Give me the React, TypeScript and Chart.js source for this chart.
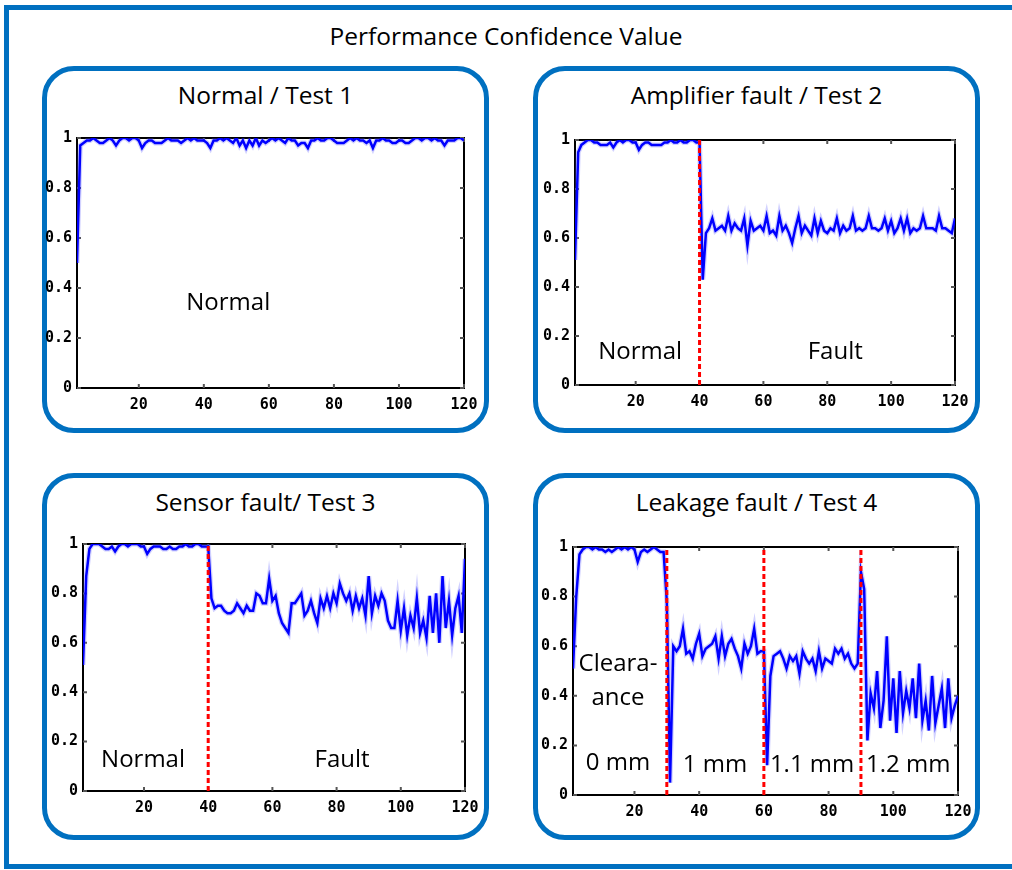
import React, { useEffect, useRef } from "react";
import { Chart, registerables } from "chart.js";

Chart.register(...registerables);

// ---------- data ----------
const xTicks = [20, 40, 60, 80, 100, 120];
const yTicks = [0, 0.2, 0.4, 0.6, 0.8, 1];

const test1 = [
  0.5, 0.97, 0.98, 0.99, 0.99, 1.0, 0.99, 0.98, 0.98, 0.99,
  1.0, 0.99, 0.97, 0.99, 1.0, 1.0, 0.99, 1.0, 1.0, 0.99,
  0.96, 0.98, 0.99, 0.99, 0.98, 0.98, 0.98, 0.99, 1.0, 0.99,
  0.99, 0.99, 0.98, 0.99, 1.0, 0.99, 1.0, 0.99, 0.99, 0.99,
  0.98, 0.96, 0.99, 0.99, 1.0, 0.99, 1.0, 0.99, 0.98, 1.0,
  0.97, 0.99, 0.96, 0.99, 0.97, 1.0, 0.97, 0.99, 0.98, 0.99,
  1.0, 0.99, 1.0, 0.99, 0.98, 1.0, 0.99, 0.99, 0.97, 0.98,
  0.98, 0.96, 0.99, 0.99, 1.0, 0.99, 0.99, 1.0, 1.0, 0.99,
  0.98, 0.98, 0.98, 0.99, 1.0, 0.99, 1.0, 0.99, 0.99, 0.98,
  0.99, 0.96, 0.99, 0.99, 1.0, 0.99, 0.99, 0.98, 0.98, 0.99,
  0.99, 0.98, 0.98, 0.99, 1.0, 1.0, 0.99, 1.0, 1.0, 0.99,
  1.0, 0.99, 0.99, 0.97, 0.99, 0.99, 0.99, 1.0, 1.0, 0.99,
];

const test2 = [
  0.51, 0.95, 0.98, 0.99, 1.0, 1.0, 0.99, 0.99, 0.98, 0.98,
  0.98, 0.99, 0.97, 0.99, 1.0, 0.99, 1.0, 1.0, 0.99, 0.99,
  0.96, 0.98, 0.99, 0.99, 0.98, 0.98, 0.98, 0.98, 0.99, 0.99,
  1.0, 0.99, 0.99, 1.0, 0.99, 0.99, 1.0, 1.0, 0.99, 0.99,
  0.43, 0.62, 0.64, 0.68, 0.63, 0.64, 0.65, 0.63, 0.69, 0.63,
  0.66, 0.64, 0.63, 0.68, 0.57, 0.67, 0.63, 0.64, 0.65, 0.63,
  0.69, 0.62, 0.63, 0.61, 0.69, 0.63, 0.65, 0.62, 0.58, 0.64,
  0.69, 0.62, 0.65, 0.63, 0.61, 0.68, 0.62, 0.67, 0.63, 0.62,
  0.64, 0.63, 0.68, 0.62, 0.65, 0.63, 0.64, 0.69, 0.63, 0.64,
  0.63, 0.64, 0.69, 0.64, 0.64, 0.63, 0.64, 0.68, 0.63, 0.67,
  0.62, 0.64, 0.68, 0.63, 0.68, 0.62, 0.64, 0.63, 0.64, 0.69,
  0.64, 0.64, 0.64, 0.63, 0.69, 0.64, 0.64, 0.63, 0.62, 0.68,
];

const test3 = [
  0.51, 0.87, 0.98, 1.0, 1.0, 1.0, 0.99, 0.98, 0.98, 0.99,
  0.97, 0.99, 1.0, 1.0, 0.99, 1.0, 1.0, 1.0, 0.99, 0.99,
  0.96, 0.98, 0.99, 0.99, 0.99, 0.98, 0.98, 0.99, 0.98, 0.98,
  0.99, 0.99, 1.0, 0.99, 0.99, 1.0, 1.0, 0.99, 0.99, 0.99,
  0.78, 0.74, 0.75, 0.75, 0.73, 0.72, 0.72, 0.73, 0.76, 0.74,
  0.72, 0.75, 0.73, 0.73, 0.8, 0.79, 0.76, 0.76, 0.86, 0.77,
  0.79, 0.72, 0.68, 0.66, 0.64, 0.76, 0.76, 0.78, 0.8, 0.71,
  0.73, 0.77, 0.72, 0.68, 0.78, 0.74, 0.79, 0.74, 0.8, 0.76,
  0.84, 0.8, 0.77, 0.8, 0.73, 0.79, 0.74, 0.78, 0.71, 0.87,
  0.72, 0.79, 0.75, 0.8, 0.77, 0.69, 0.66, 0.66, 0.77, 0.65,
  0.74, 0.63, 0.71, 0.66, 0.78, 0.64, 0.69, 0.62, 0.79, 0.64,
  0.8, 0.6, 0.87, 0.66, 0.77, 0.63, 0.74, 0.79, 0.64, 0.94,
];

const test4 = [
  0.51, 0.8, 0.97, 0.99, 1.0, 1.0, 0.99, 1.0, 0.99, 0.99,
  0.98, 0.99, 0.98, 0.99, 1.0, 0.99, 1.0, 0.99, 1.0, 0.99,
  0.94, 0.98, 0.99, 0.98, 0.99, 1.0, 0.99, 0.98, 0.98, 0.78,
  0.05, 0.6, 0.58, 0.6, 0.67, 0.57, 0.58, 0.55, 0.61, 0.65,
  0.56, 0.59, 0.6, 0.61, 0.64, 0.55, 0.64, 0.56, 0.61, 0.63,
  0.59, 0.56, 0.51, 0.61, 0.57, 0.6, 0.67, 0.57, 0.58, 0.58,
  0.12, 0.48, 0.56, 0.57, 0.58, 0.55, 0.51, 0.56, 0.54, 0.56,
  0.49, 0.58, 0.55, 0.53, 0.55, 0.5, 0.58, 0.51, 0.55, 0.54,
  0.53, 0.59, 0.57, 0.59, 0.55, 0.57, 0.53, 0.51, 0.53, 0.9,
  0.83, 0.22, 0.41, 0.35, 0.5, 0.27, 0.38, 0.64, 0.3, 0.47,
  0.25, 0.5, 0.33, 0.42, 0.35, 0.47, 0.31, 0.53, 0.3, 0.38,
  0.26, 0.48, 0.29, 0.36, 0.43, 0.27, 0.47, 0.31, 0.36, 0.4,
];

const test1Breaks: number[] = [];
const test2Breaks = [40];
const test3Breaks = [40];
const test4Breaks = [30, 60, 90];

type Note = { text: string; x: number; y: number };
const test1Notes: Note[] = [{ text: "Normal", x: 47.5, y: 0.34 }];
const test2Notes: Note[] = [
  { text: "Normal", x: 21.4, y: 0.134 },
  { text: "Fault", x: 82.5, y: 0.134 },
];
const test3Notes: Note[] = [
  { text: "Normal", x: 19.7, y: 0.125 },
  { text: "Fault", x: 81.7, y: 0.125 },
];
const test4Notes: Note[] = [
  { text: "Cleara-", x: 14.9, y: 0.528 },
  { text: "ance", x: 14.9, y: 0.392 },
  { text: "0 mm", x: 14.9, y: 0.128 },
  { text: "1 mm", x: 44.9, y: 0.12 },
  { text: "1.1 mm", x: 74.9, y: 0.12 },
  { text: "1.2 mm", x: 104.6, y: 0.12 },
];

// ---------- styles ----------
const BLUE_FRAME = "#0070c0";
const TEXT_FONT = "'Open Sans', Lato, sans-serif";
const TICK_FONT = "'DejaVu Sans Mono', monospace";

const PAD_L = 50;
const PAD_T = 12;
const PAD_R = 22;
const PAD_B = 30;

type Geo = { l: number; t: number; r: number; b: number };

const matlabPlugin = {
  id: "matlabBox",
  beforeDatasetsDraw(chart: any) {
    const { ctx, chartArea } = chart;
    const xs = chart.scales.x;
    const ys = chart.scales.y;
    ctx.save();
    ctx.strokeStyle = "#000";
    ctx.lineWidth = 2;
    ctx.strokeRect(chartArea.left, chartArea.top, chartArea.right - chartArea.left, chartArea.bottom - chartArea.top);
    ctx.strokeStyle = "#555";
    ctx.lineWidth = 2;
    const tl = 4;
    ctx.beginPath();
    xTicks.forEach((v) => {
      const px = xs.getPixelForValue(v);
      ctx.moveTo(px, chartArea.bottom);
      ctx.lineTo(px, chartArea.bottom - tl);
      ctx.moveTo(px, chartArea.top);
      ctx.lineTo(px, chartArea.top + tl);
    });
    yTicks.forEach((v) => {
      const py = ys.getPixelForValue(v);
      ctx.moveTo(chartArea.left, py);
      ctx.lineTo(chartArea.left + tl, py);
      ctx.moveTo(chartArea.right, py);
      ctx.lineTo(chartArea.right - tl, py);
    });
    ctx.stroke();
    ctx.restore();
  },
  afterDatasetsDraw(chart: any) {
    const notes: Note[] = chart.options.plugins.matlabBox?.notes || [];
    const { ctx } = chart;
    const xs = chart.scales.x;
    const ys = chart.scales.y;
    ctx.save();
    ctx.fillStyle = "#000";
    ctx.font = `24px ${TEXT_FONT}`;
    ctx.textAlign = "center";
    ctx.textBaseline = "middle";
    notes.forEach((n) => {
      ctx.fillText(n.text, xs.getPixelForValue(n.x), ys.getPixelForValue(n.y));
    });
    ctx.restore();
  },
};

function PlotCanvas({ geo, values, breaks, notes }: { geo: Geo; values: number[]; breaks: number[]; notes: Note[] }) {
  const ref = useRef<HTMLCanvasElement>(null);
  const w = geo.r - geo.l + PAD_L + PAD_R;
  const h = geo.b - geo.t + PAD_T + PAD_B;
  useEffect(() => {
    if (!ref.current) return;
    const points = values.map((v, i) => ({ x: i + 1, y: v }));
    const datasets: any[] = [
      {
        data: points,
        borderColor: "#0000ff",
        borderWidth: 2.5,
        pointRadius: 0,
        tension: 0,
        order: 2,
      },
      {
        data: points,
        borderColor: "rgba(90,90,255,0.28)",
        borderWidth: 5,
        pointRadius: 0,
        tension: 0,
        order: 3,
      },
    ];
    breaks.forEach((b) => {
      datasets.push({
        data: [
          { x: b, y: 0 },
          { x: b, y: 1 },
        ],
        borderColor: "#ff0000",
        borderWidth: 3,
        borderDash: [5, 3],
        pointRadius: 0,
        order: 1,
      });
    });
    const chart = new Chart(ref.current, {
      type: "line",
      data: { datasets },
      options: {
        animation: false,
        responsive: false,
        devicePixelRatio: 1,
        layout: { padding: { left: 0, top: PAD_T, right: PAD_R, bottom: 0 } },
        plugins: {
          legend: { display: false },
          tooltip: { enabled: false },
          matlabBox: { notes },
        } as any,
        scales: {
          x: {
            type: "linear",
            min: 1,
            max: 120,
            afterBuildTicks: (s: any) => {
              s.ticks = xTicks.map((v) => ({ value: v }));
            },
            afterFit: (s: any) => {
              s.height = PAD_B;
            },
            grid: { display: false, drawTicks: false },
            border: { display: false },
            ticks: {
              padding: 8,
              maxRotation: 0,
              autoSkip: false,
              color: "#000",
              font: { family: TICK_FONT, size: 15, weight: "bold" },
              callback: (v: any) => String(v),
            },
          },
          y: {
            type: "linear",
            min: 0,
            max: 1,
            afterBuildTicks: (s: any) => {
              s.ticks = yTicks.map((v) => ({ value: v }));
            },
            afterFit: (s: any) => {
              s.width = PAD_L;
            },
            grid: { display: false, drawTicks: false },
            border: { display: false },
            ticks: {
              padding: 5,
              autoSkip: false,
              color: "#000",
              font: { family: TICK_FONT, size: 15, weight: "bold" },
              callback: (v: any) => String(v),
            },
          },
        },
      } as any,
      plugins: [matlabPlugin],
    });
    return () => chart.destroy();
  }, []);
  return (
    <canvas
      ref={ref}
      width={w}
      height={h}
      style={{ position: "absolute", left: geo.l - PAD_L, top: geo.t - PAD_T, width: w, height: h }}
    />
  );
}

function Panel({ left, top, title, geo, values, breaks, notes }: any) {
  return (
    <>
      <div
        style={{
          position: "absolute",
          left,
          top,
          width: 447,
          height: 367,
          border: `5px solid ${BLUE_FRAME}`,
          borderRadius: 32,
          boxSizing: "border-box",
        }}
      />
      <div
        style={{
          position: "absolute",
          left,
          top: top + 14,
          width: 447,
          textAlign: "center",
          fontFamily: TEXT_FONT,
          fontSize: 24.5,
          lineHeight: "30px",
          color: "#000",
          whiteSpace: "nowrap",
        }}
      >
        {title}
      </div>
      <PlotCanvas geo={geo} values={values} breaks={breaks} notes={notes} />
    </>
  );
}

export default function App() {
  return (
    <div
      style={{
        position: "fixed",
        left: 0,
        top: 0,
        width: 1012,
        height: 870,
        background: "#fff",
        overflow: "hidden",
      }}
    >
      <div
        style={{
          position: "absolute",
          left: 4,
          top: 5,
          width: 1030,
          height: 864,
          borderLeft: `5px solid ${BLUE_FRAME}`,
          borderTop: `5px solid ${BLUE_FRAME}`,
          borderBottom: `5px solid ${BLUE_FRAME}`,
          boxSizing: "border-box",
        }}
      />
      <div
        style={{
          position: "absolute",
          left: 0,
          top: 21,
          width: 1012,
          textAlign: "center",
          fontFamily: TEXT_FONT,
          fontSize: 24.5,
          lineHeight: "30px",
          color: "#000",
        }}
      >
        Performance Confidence Value
      </div>
      <Panel left={42} top={66} title="Normal / Test 1" geo={{ l: 77, t: 136, r: 464, b: 388 }} values={test1} breaks={test1Breaks} notes={test1Notes} />
      <Panel left={533} top={66} title="Amplifier fault / Test 2" geo={{ l: 575, t: 138, r: 955, b: 385 }} values={test2} breaks={test2Breaks} notes={test2Notes} />
      <Panel left={42} top={473} title="Sensor fault/ Test 3" geo={{ l: 83, t: 542, r: 465, b: 791 }} values={test3} breaks={test3Breaks} notes={test3Notes} />
      <Panel left={533} top={473} title="Leakage fault / Test 4" geo={{ l: 573, t: 545, r: 958, b: 795 }} values={test4} breaks={test4Breaks} notes={test4Notes} />
    </div>
  );
}
